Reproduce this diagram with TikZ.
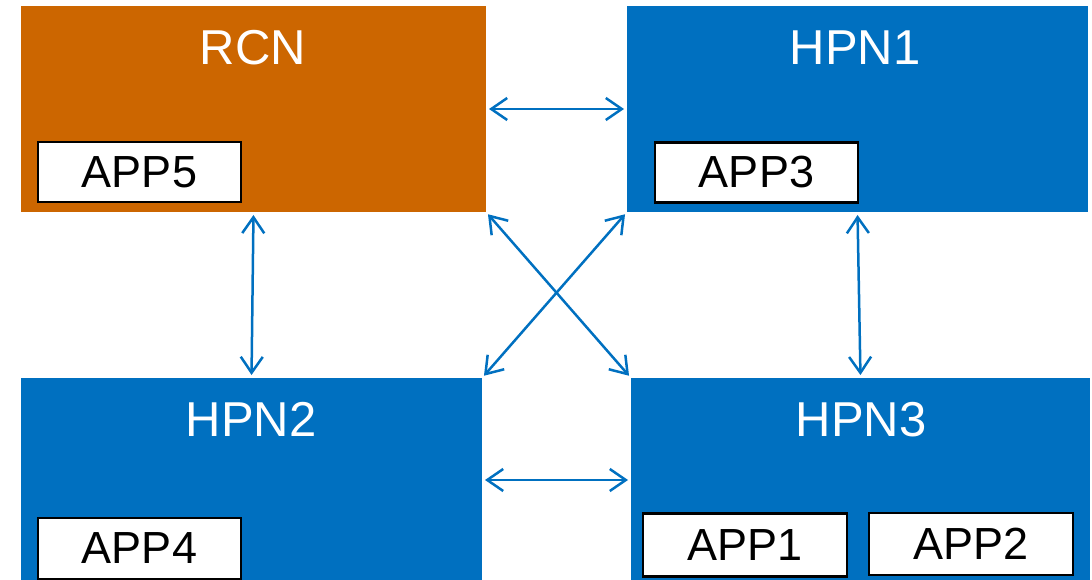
\documentclass[tikz,border=0pt]{standalone}
\usepackage{fontspec}
\setmainfont{Liberation Sans}
\usetikzlibrary{arrows.meta}
\definecolor{rcnorange}{HTML}{CC6600}
\definecolor{hpnblue}{HTML}{0070C0}
\begin{document}
\begin{tikzpicture}[x=1pt,y=-1pt,
  bigbox/.style={draw=none,inner sep=0pt,outer sep=0pt},
  title/.style={text=white,font=\fontsize{49}{51}\selectfont,inner sep=0pt,anchor=base},
  appbox/.style={draw=black,line width=2.5pt,fill=white,inner sep=0pt,outer sep=0pt,
    minimum width=203pt,minimum height=60pt,font=\fontsize{45}{47}\selectfont},
  link/.style={draw=hpnblue,line width=2.5pt,{Straight Barb[length=16pt,width=22pt]}-{Straight Barb[length=16pt,width=22pt]}, shorten <=3pt, shorten >=3pt}]
\useasboundingbox (0,0) rectangle (1092,580);
\node[bigbox,fill=rcnorange,minimum width=465pt,minimum height=206pt] (RCN) at (253.5,109) {};
\node[bigbox,fill=hpnblue,minimum width=461pt,minimum height=206pt] (HPN1) at (857.5,109) {};
\node[bigbox,fill=hpnblue,minimum width=461pt,minimum height=204pt] (HPN2) at (251.5,480) {};
\node[bigbox,fill=hpnblue,minimum width=459pt,minimum height=204pt] (HPN3) at (860.5,480) {};
\node[title] (tRCN) at (253,65) {RCN};
\node[title] (tHPN1) at (855,65) {HPN1};
\node[title] (tHPN2) at (251,436) {HPN2};
\node[title] (tHPN3) at (861,436) {HPN3};
\node[appbox] (APP5) at (139.5,172) {APP5};
\node[appbox] (APP3) at (756.5,172.5) {APP3};
\node[appbox,minimum height=61pt] (APP4) at (139.5,548.5) {APP4};
\node[appbox,minimum width=204pt,minimum height=63pt] (APP1) at (745,545) {APP1};
\node[appbox,minimum width=204pt,minimum height=62pt] (APP2) at (971,544) {APP2};
\draw[link] (RCN.east) -- (HPN1.west);
\draw[link] (HPN2.east) -- (HPN3.west);
\draw[link] (RCN.south) -- (HPN2.north);
\draw[link] (HPN1.south) -- (HPN3.north);
\draw[link] (RCN.south east) -- (HPN3.north west);
\draw[link] (HPN1.south west) -- (HPN2.north east);
\end{tikzpicture}
\end{document}
